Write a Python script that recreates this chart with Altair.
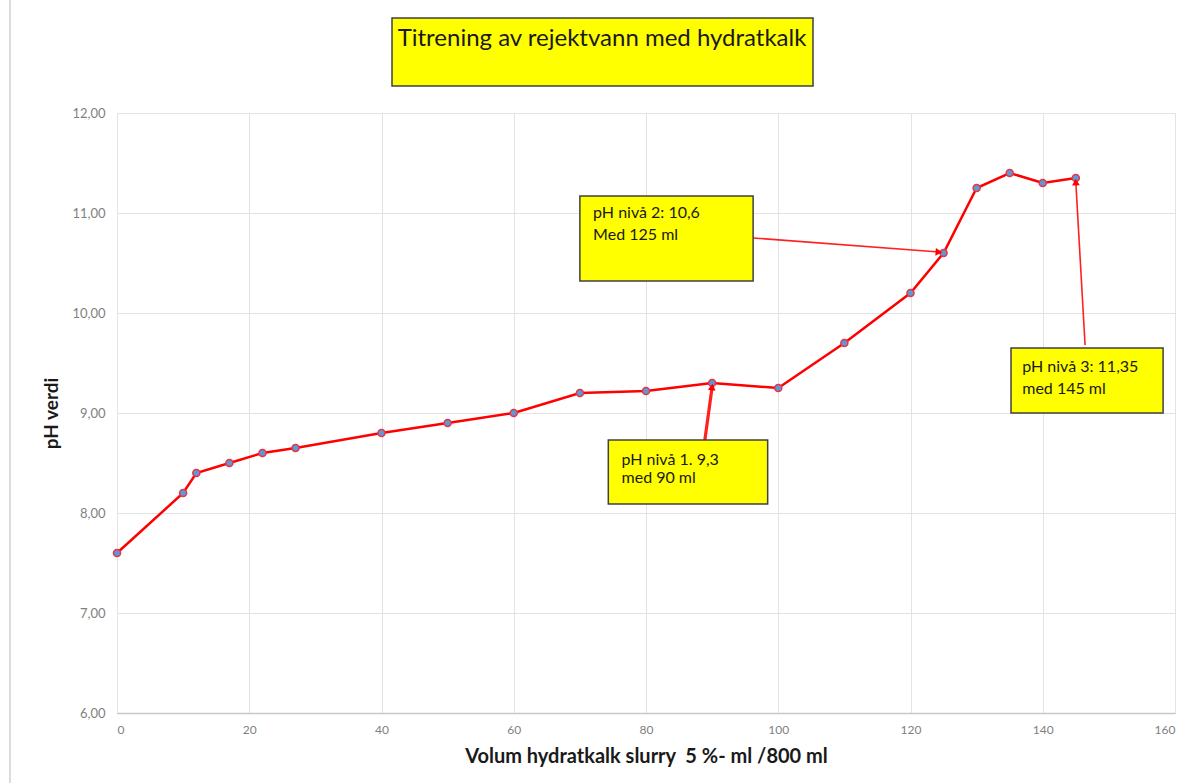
import altair as alt
import pandas as pd

# --- data ---
volum = [0, 10, 12, 17, 22, 27, 40, 50, 60, 70, 80, 90, 100, 110, 120, 125, 130, 135, 140, 145]
ph = [7.6, 8.2, 8.4, 8.5, 8.6, 8.65, 8.8, 8.9, 9.0, 9.2, 9.22, 9.3, 9.25, 9.7, 10.2, 10.6, 11.25, 11.4, 11.3, 11.35]

title_text = "Titrening av rejektvann med hydratkalk"
x_title = "Volum hydratkalk slurry\u00a0\u00a05 %- ml /800 ml"
y_title = "pH verdi"

# annotation boxes (data units)
box_x1 = [74.3, 70.0, 135.2]
box_x2 = [98.4, 96.2, 158.2]
box_y1 = [8.73, 11.17, 9.65]
box_y2 = [8.09, 10.32, 9.00]
text_x = [76.3, 72.0, 136.9]
text_line1 = ["pH nivå 1. 9,3", "pH nivå 2: 10,6", "pH nivå 3: 11,35"]
text_line2 = ["\u00a0med 90 ml", "Med 125 ml", "med 145 ml"]
text_y1 = [8.53, 11.00, 9.46]
text_y2 = [8.35, 10.78, 9.24]
# arrows: start (box edge) -> tip (near data point)
arr_x1 = [88.9, 96.2, 146.4]
arr_y1 = [8.73, 10.75, 9.68]
arr_x2 = [90.0, 124.3, 145.0]
arr_y2 = [9.26, 10.61, 11.31]
arr_angle = [8, 94, 358]

df = pd.DataFrame({"x": volum, "y": ph})
boxes = pd.DataFrame({"x": box_x1, "x2": box_x2, "y": box_y1, "y2": box_y2})
texts = pd.DataFrame({
    "x": text_x * 2,
    "y": text_y1 + text_y2,
    "t": text_line1 + text_line2,
})
arrows = pd.DataFrame({"x": arr_x1, "y": arr_y1, "x2": arr_x2, "y2": arr_y2,
                       "angle": arr_angle, "w": [3.2, 1.6, 1.6]})

W, H = 1058, 600
FONT = "Lato"

xs = alt.Scale(domain=[0, 160], nice=False, zero=False)
ys = alt.Scale(domain=[6, 12], nice=False, zero=False)

x_axis = alt.Axis(values=list(range(0, 161, 20)), title=x_title, grid=True,
                  gridColor="#e3e3e3", domainColor="#c8c8c8", domainWidth=1.5,
                  ticks=False, labelColor="#7f7f7f", labelFontSize=12, labelFont=FONT,
                  labelPadding=11, titleFont=FONT, titleFontSize=20, titleFontWeight="bold",
                  titleColor="#1a1a1a", titlePadding=11)
y_axis = alt.Axis(values=[6, 7, 8, 9, 10, 11, 12], title=y_title, grid=True,
                  gridColor="#e3e3e3", domain=False, ticks=False,
                  labelColor="#7f7f7f", labelFontSize=13, labelFont=FONT, labelPadding=12,
                  labelExpr="replace(format(datum.value, '.2f'), '.', ',')",
                  titleFont=FONT, titleFontSize=19, titleFontWeight="bold",
                  titleColor="#1a1a1a", titlePadding=10)

base = alt.Chart(df)
line = base.mark_line(color="#ff0000", strokeWidth=2.5).encode(
    x=alt.X("x:Q", scale=xs, axis=x_axis),
    y=alt.Y("y:Q", scale=ys, axis=y_axis),
)
pts = base.mark_point(filled=True, fill="#5b9bd5", stroke="#e8334a", strokeWidth=1.5,
                      size=50, opacity=1).encode(x="x:Q", y="y:Q")

box_layer = alt.Chart(boxes).mark_rect(fill="#ffff00", stroke="#404040", strokeWidth=1.5).encode(
    x="x:Q", x2="x2", y="y:Q", y2="y2")
text_layer = alt.Chart(texts).mark_text(align="left", baseline="middle", font=FONT,
                                        fontSize=16, color="#1a1a1a").encode(
    x="x:Q", y="y:Q", text="t:N")
arrow_lines = alt.Chart(arrows).mark_rule(color="#ff2020").encode(
    x="x:Q", y="y:Q", x2="x2", y2="y2",
    strokeWidth=alt.StrokeWidth("w:Q", scale=None))
arrow_heads = alt.Chart(arrows).mark_point(shape="triangle-up", filled=True, color="#ff0000",
                                           size=60, opacity=1).encode(
    x="x2:Q", y="y2:Q", angle=alt.Angle("angle:Q", scale=None))

title_box = alt.Chart(pd.DataFrame({"t": [title_text]})).mark_rect(
    fill="#ffff00", stroke="#404040", strokeWidth=1.5).encode(
    x=alt.value(275), x2=alt.value(696), y=alt.value(-95), y2=alt.value(-27))
title_txt = alt.Chart(pd.DataFrame({"t": [title_text]})).mark_text(
    font=FONT, fontSize=24, color="#1a1a1a", align="center", baseline="middle").encode(
    x=alt.value(485), y=alt.value(-74), text="t:N")
border = alt.Chart(pd.DataFrame({"t": [0]})).mark_rule(color="#d0d0d0", strokeWidth=1.5).encode(
    x=alt.value(-107), y=alt.value(-113), y2=alt.value(670))

chart = alt.layer(border, line, pts, arrow_lines, arrow_heads, box_layer, text_layer,
                  title_box, title_txt).properties(
    width=W, height=H,
    autosize=alt.AutoSizeParams(type="none"),
    padding={"left": 117, "top": 113, "right": 19, "bottom": 70},
    background="white",
).configure_view(stroke=None)

chart.save("out.html", embed_options={"renderer": "svg", "actions": False})
